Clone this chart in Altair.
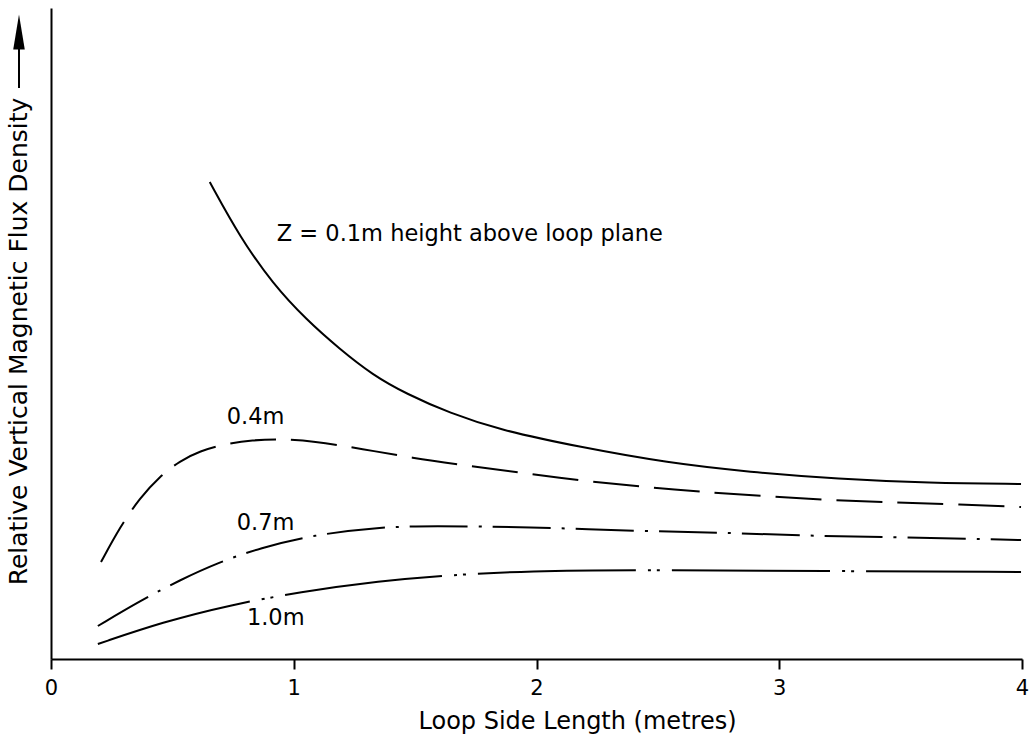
import altair as alt
import pandas as pd

# ---- data (x in metres, y in relative units) ----
z01_x = [0.654, 0.778, 0.914, 1.053, 1.189, 1.325, 1.465, 1.642, 1.848, 2.177, 2.543, 2.877, 3.243, 3.617, 3.996]
z01_y = [477, 422, 375, 339, 310, 284, 265, 246, 229, 212, 196, 187, 180, 176, 175]

z04_x = [0.206, 0.284, 0.366, 0.449, 0.531, 0.613, 0.716, 0.831, 0.942, 1.078, 1.284, 1.490, 1.695, 1.942, 2.198, 2.449, 2.683, 2.934, 3.185, 3.436, 3.687, 3.996]
z04_y = [97, 132, 161, 183, 198, 208, 215, 219, 220, 218, 210, 201, 194, 186, 178, 172, 167, 163, 159, 157, 155, 152]

z07_x = [0.193, 0.366, 0.531, 0.695, 0.860, 1.078, 1.354, 1.560, 1.971, 2.407, 2.823, 3.144, 3.481, 3.996]
z07_y = [33, 58, 79, 97, 111, 124, 132, 133, 132, 128, 126, 123, 122, 119]

z10_x = [0.193, 0.461, 0.737, 1.025, 1.354, 1.642, 1.971, 2.407, 3.185, 3.996]
z10_y = [15, 37, 54, 67, 78, 84, 88, 89, 88, 87]

label_text = ["Z = 0.1m height above loop plane", "0.4m", "0.7m", "1.0m"]
label_x = [0.930, 0.724, 0.765, 0.807]
label_y = [425, 242, 136, 41]

x_ticks = [0, 1, 2, 3, 4]

FONT = "DejaVu Sans"

x_scale = alt.Scale(domain=[0, 4], nice=False, zero=False)
y_scale = alt.Scale(domain=[0, 651], nice=False, zero=False)

x_axis = alt.Axis(
    values=x_ticks, format="d", grid=False, labelFlush=False,
    domainColor="black", domainWidth=2,
    tickColor="black", tickWidth=2, tickSize=10,
    labelFont=FONT, labelFontSize=21, labelColor="black", labelPadding=8,
    title="Loop Side Length  (metres)", titleFont=FONT, titleFontSize=24,
    titleFontWeight="normal", titleColor="black",
    titleX=526, titleY=62, titleAlign="center", titleBaseline="middle",
)
y_axis = alt.Axis(
    ticks=False, labels=False, grid=False,
    domainColor="black", domainWidth=2,
    title="Relative Vertical Magnetic Flux Density", titleFont=FONT, titleFontSize=25,
    titleFontWeight="normal", titleColor="black",
    titleX=-33, titleY=333, titleAngle=270, titleAlign="center", titleBaseline="middle",
)

series = [
    (z01_x, z01_y, None),
    (z04_x, z04_y, [46, 15]),
    (z07_x, z07_y, [58, 11, 3, 11]),
    (z10_x, z10_y, [158, 12, 3, 6, 3, 12]),
]

layers = []
for xs, ys, dash in series:
    df = pd.DataFrame({"x": xs, "y": ys})
    kw = dict(color="black", strokeWidth=2, interpolate="basis")
    if dash is not None:
        kw["strokeDash"] = dash
    layers.append(
        alt.Chart(df).mark_line(**kw).encode(
            x=alt.X("x:Q", scale=x_scale, axis=x_axis),
            y=alt.Y("y:Q", scale=y_scale, axis=y_axis),
        )
    )

labels_df = pd.DataFrame({"t": label_text, "x": label_x, "y": label_y})
layers.append(
    alt.Chart(labels_df).mark_text(
        align="left", baseline="middle", font=FONT, fontSize=22.5, color="black"
    ).encode(
        x=alt.X("x:Q", scale=x_scale, axis=x_axis),
        y=alt.Y("y:Q", scale=y_scale, axis=y_axis),
        text="t:N",
    )
)

# arrow beside the y-axis title (decoration)
arrow_shaft = alt.Chart(pd.DataFrame({"a": [0]})).mark_rule(color="black", strokeWidth=2).encode(
    x=alt.value(-32), y=alt.value(40), y2=alt.value(80)
)
arrow_head = alt.Chart(pd.DataFrame({"a": [0]})).mark_point(
    shape="M0,-1L0.33,1L-0.33,1Z", filled=True, color="black", opacity=1, size=1225
).encode(x=alt.value(-32), y=alt.value(24))
layers += [arrow_shaft, arrow_head]

chart = alt.layer(*layers).properties(
    width=971, height=651,
    padding={"left": 51, "top": 8, "right": 7, "bottom": 88},
    autosize=alt.AutoSizeParams(type="none"),
    background="white",
).configure_view(stroke=None)

chart.save("out.html", embed_options={"renderer": "svg", "actions": False})
